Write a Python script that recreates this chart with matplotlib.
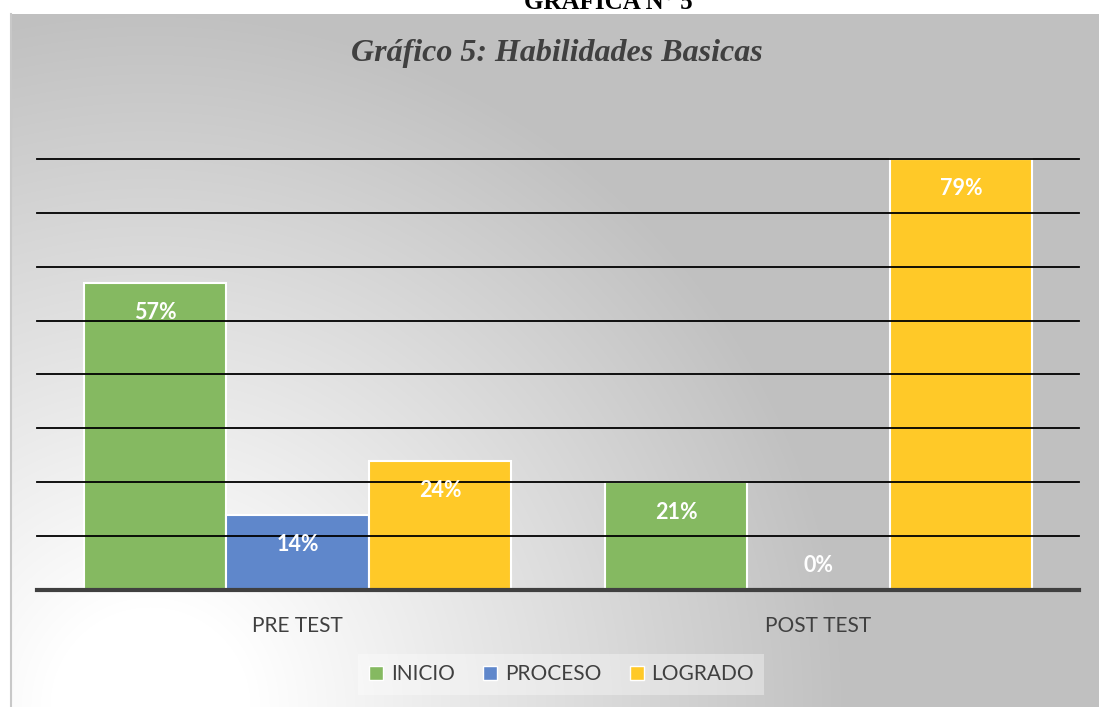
import matplotlib.pyplot as plt
import numpy as np
from matplotlib.lines import Line2D

categories = ["PRE TEST", "POST TEST"]
series = ["INICIO", "PROCESO", "LOGRADO"]
inicio = [57, 20]
proceso = [14, 0]
logrado = [24, 80]
labels_inicio = ["57%", "21%"]
labels_proceso = ["14%", "0%"]
labels_logrado = ["24%", "79%"]
colors = ["#85B961", "#5F87CB", "#FFC928"]

W, H = 1099, 707
fig = plt.figure(figsize=(W / 100, H / 100), dpi=100)

# background: white strip on top, grey chart area with a soft light glow bottom-left
bg = fig.add_axes([0, 0, 1, 1], zorder=-5)
yy, xx = np.mgrid[0:H, 0:W]
d = np.hypot(xx - 150, yy - 707)
val = 255 - (255 - 192) * np.clip((d - 100) / 600, 0, 1)
img = np.repeat(val[:, :, None] / 255.0, 3, axis=2)
img[:14, :, :] = 1.0
img[:, :10, :] = 1.0
bg.imshow(img, extent=[0, W, H, 0], aspect="auto", interpolation="bilinear")
bg.plot([10.5, 10.5], [14, H], color="#C8C8C8", lw=1.5)
bg.set_xlim(0, W)
bg.set_ylim(H, 0)
bg.axis("off")

# axes: baseline at y=590 px, 10% = 53.9 px
ymax = 82
px_per = 5.39
top_px = 590 - ymax * px_per
ax = fig.add_axes([37 / W, (H - 590) / H, (1079 - 37) / W, (590 - top_px) / H])
ax.set_facecolor("none")
ax.set_xlim(-0.5, 1.5)
ax.set_ylim(0, ymax)

x = np.arange(len(categories))
bw = 0.2735
all_vals = [inicio, proceso, logrado]
all_labels = [labels_inicio, labels_proceso, labels_logrado]
for i, (vals, labs, c) in enumerate(zip(all_vals, all_labels, colors)):
    pos = x + (i - 1) * bw
    ax.bar(pos, vals, width=bw, color=c, edgecolor="white", linewidth=1.5, zorder=2)
    for p, v, lab in zip(pos, vals, labs):
        ypix = max(v * px_per - 30, 25)
        ax.text(p, ypix / px_per, lab, ha="center", va="center", color="white",
                fontsize=15.5, fontweight="bold", family="Lato", zorder=4)

for g in range(10, 81, 10):
    ax.axhline(g, color="black", lw=1.3, zorder=3, clip_on=False)
ax.axhline(0, color="#404040", lw=3, zorder=3, clip_on=False)

for s in ax.spines.values():
    s.set_visible(False)
ax.set_yticks([])
ax.set_xticks(x)
ax.set_xticklabels(categories, fontsize=15, color="#404040", family="Lato")
ax.tick_params(axis="x", length=0, pad=19)

fig.text(557 / W, 1 - 54 / H, "Gráfico 5: Habilidades Basicas", ha="center", va="center",
         fontsize=23, fontweight="bold", fontstyle="italic", color="#404040",
         family="Liberation Serif")
fig.text(608 / W, 1 - 9 / H, "GRÁFICA N° 5", ha="center", va="baseline",
         fontsize=18, fontweight="bold", color="black", family="Liberation Serif")

handles = [Line2D([], [], marker="s", linestyle="none", markersize=9.5,
                  markerfacecolor=c, markeredgecolor="white", markeredgewidth=1)
           for c in colors]
leg = fig.legend(handles, series, loc="center", bbox_to_anchor=(561 / W, 1 - 674.5 / H),
                 ncol=3, frameon=True, fancybox=False, handlelength=0.8, handletextpad=0.3,
                 columnspacing=1.3, borderpad=0.5,
                 prop={"family": "Lato", "size": 15})
leg.get_frame().set_facecolor("white")
leg.get_frame().set_alpha(0.35)
leg.get_frame().set_edgecolor("none")
for t in leg.get_texts():
    t.set_color("#404040")

fig.savefig("out.png", dpi=100)
